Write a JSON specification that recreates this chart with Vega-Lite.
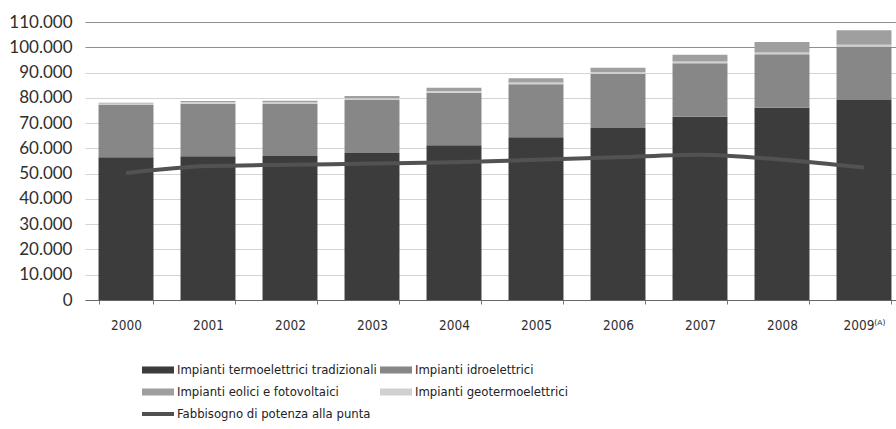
{
  "$schema": "https://vega.github.io/schema/vega-lite/v6.json",
  "autosize": "none",
  "width": 820,
  "height": 278,
  "padding": {"left": 85, "top": 22, "right": 0, "bottom": 129},
  "background": "white",
  "config": {
    "locale": {"number": {"decimal": ",", "thousands": ".", "grouping": [3], "currency": ["€", ""]}},
    "view": {"stroke": null},
    "axis": {"labelColor": "#2e2e2e", "titleColor": "#2e2e2e"}
  },
  "datasets": {
    "potenza": [
      {"anno": "2000", "serie": "Impianti termoelettrici tradizionali", "ord": 1, "mw": 56500},
      {"anno": "2000", "serie": "Impianti idroelettrici", "ord": 2, "mw": 20700},
      {"anno": "2000", "serie": "Impianti geotermoelettrici", "ord": 3, "mw": 600},
      {"anno": "2000", "serie": "Impianti eolici e fotovoltaici", "ord": 4, "mw": 200},
      {"anno": "2001", "serie": "Impianti termoelettrici tradizionali", "ord": 1, "mw": 56900},
      {"anno": "2001", "serie": "Impianti idroelettrici", "ord": 2, "mw": 20800},
      {"anno": "2001", "serie": "Impianti geotermoelettrici", "ord": 3, "mw": 600},
      {"anno": "2001", "serie": "Impianti eolici e fotovoltaici", "ord": 4, "mw": 400},
      {"anno": "2002", "serie": "Impianti termoelettrici tradizionali", "ord": 1, "mw": 57000},
      {"anno": "2002", "serie": "Impianti idroelettrici", "ord": 2, "mw": 20600},
      {"anno": "2002", "serie": "Impianti geotermoelettrici", "ord": 3, "mw": 600},
      {"anno": "2002", "serie": "Impianti eolici e fotovoltaici", "ord": 4, "mw": 600},
      {"anno": "2003", "serie": "Impianti termoelettrici tradizionali", "ord": 1, "mw": 58200},
      {"anno": "2003", "serie": "Impianti idroelettrici", "ord": 2, "mw": 20900},
      {"anno": "2003", "serie": "Impianti geotermoelettrici", "ord": 3, "mw": 700},
      {"anno": "2003", "serie": "Impianti eolici e fotovoltaici", "ord": 4, "mw": 900},
      {"anno": "2004", "serie": "Impianti termoelettrici tradizionali", "ord": 1, "mw": 61200},
      {"anno": "2004", "serie": "Impianti idroelettrici", "ord": 2, "mw": 20800},
      {"anno": "2004", "serie": "Impianti geotermoelettrici", "ord": 3, "mw": 700},
      {"anno": "2004", "serie": "Impianti eolici e fotovoltaici", "ord": 4, "mw": 1300},
      {"anno": "2005", "serie": "Impianti termoelettrici tradizionali", "ord": 1, "mw": 64400},
      {"anno": "2005", "serie": "Impianti idroelettrici", "ord": 2, "mw": 21000},
      {"anno": "2005", "serie": "Impianti geotermoelettrici", "ord": 3, "mw": 700},
      {"anno": "2005", "serie": "Impianti eolici e fotovoltaici", "ord": 4, "mw": 1600},
      {"anno": "2006", "serie": "Impianti termoelettrici tradizionali", "ord": 1, "mw": 68100},
      {"anno": "2006", "serie": "Impianti idroelettrici", "ord": 2, "mw": 21300},
      {"anno": "2006", "serie": "Impianti geotermoelettrici", "ord": 3, "mw": 700},
      {"anno": "2006", "serie": "Impianti eolici e fotovoltaici", "ord": 4, "mw": 1800},
      {"anno": "2007", "serie": "Impianti termoelettrici tradizionali", "ord": 1, "mw": 72500},
      {"anno": "2007", "serie": "Impianti idroelettrici", "ord": 2, "mw": 21200},
      {"anno": "2007", "serie": "Impianti geotermoelettrici", "ord": 3, "mw": 700},
      {"anno": "2007", "serie": "Impianti eolici e fotovoltaici", "ord": 4, "mw": 2600},
      {"anno": "2008", "serie": "Impianti termoelettrici tradizionali", "ord": 1, "mw": 76100},
      {"anno": "2008", "serie": "Impianti idroelettrici", "ord": 2, "mw": 21100},
      {"anno": "2008", "serie": "Impianti geotermoelettrici", "ord": 3, "mw": 700},
      {"anno": "2008", "serie": "Impianti eolici e fotovoltaici", "ord": 4, "mw": 4200},
      {"anno": "2009⁽ᴬ⁾", "serie": "Impianti termoelettrici tradizionali", "ord": 1, "mw": 79100},
      {"anno": "2009⁽ᴬ⁾", "serie": "Impianti idroelettrici", "ord": 2, "mw": 21200},
      {"anno": "2009⁽ᴬ⁾", "serie": "Impianti geotermoelettrici", "ord": 3, "mw": 700},
      {"anno": "2009⁽ᴬ⁾", "serie": "Impianti eolici e fotovoltaici", "ord": 4, "mw": 5700}
    ],
    "punta": [
      {"anno": "2000", "mw": 50200},
      {"anno": "2001", "mw": 53000},
      {"anno": "2002", "mw": 53500},
      {"anno": "2003", "mw": 54000},
      {"anno": "2004", "mw": 54500},
      {"anno": "2005", "mw": 55500},
      {"anno": "2006", "mw": 56500},
      {"anno": "2007", "mw": 57500},
      {"anno": "2008", "mw": 55500},
      {"anno": "2009⁽ᴬ⁾", "mw": 52400}
    ]
  },
  "layer": [
    {
      "data": {"name": "potenza"},
      "mark": {"type": "bar"},
      "encoding": {
        "x": {
          "field": "anno",
          "type": "ordinal",
          "sort": null,
          "scale": {"paddingInner": 0.33, "paddingOuter": 0.165},
          "axis": {
            "title": null,
            "labelAngle": 0,
            "labelFont": "'DejaVu Sans Condensed', 'Liberation Sans Narrow', 'Liberation Sans', sans-serif",
            "labelFontSize": 13.5,
            "labelPadding": 14,
            "tickBand": "extent",
            "tickSize": 4,
            "tickColor": "#777",
            "domainColor": "#666",
            "grid": false
          }
        },
        "y": {
          "field": "mw",
          "type": "quantitative",
          "stack": "zero",
          "scale": {"domain": [0, 110000], "nice": false},
          "axis": {
            "title": null,
            "tickCount": {"signal": "11"},
            "format": ",d",
            "labelFont": "Lato",
            "labelFontSize": 17,
            "labelPadding": 13,
            "labelOverlap": false,
            "labelBound": false,
            "labelFlush": false,
            "domain": false,
            "ticks": false,
            "grid": true,
            "gridColor": {"condition": {"test": "datum.value >= 100000", "value": "#8f8f8f"}, "value": "#d4d4d4"},
            "gridWidth": 1
          }
        },
        "order": {"field": "ord", "type": "quantitative"},
        "color": {
          "field": "serie",
          "type": "nominal",
          "scale": {
            "domain": [
              "Impianti termoelettrici tradizionali",
              "Impianti idroelettrici",
              "Impianti eolici e fotovoltaici",
              "Impianti geotermoelettrici",
              "Fabbisogno di potenza alla punta"
            ],
            "range": ["#3c3c3c", "#878787", "#9f9f9f", "#d0d0d0", "#505050"]
          },
          "legend": {
            "title": null,
            "orient": "none",
            "legendX": 57,
            "legendY": 340,
            "direction": "horizontal",
            "columns": 2,
            "columnPadding": 3,
            "rowPadding": 7,
            "symbolType": "M-1,-0.44H3V0.44H-1Z",
            "symbolSize": 256,
            "symbolStrokeWidth": 0,
            "labelFont": "'DejaVu Sans Condensed', 'Liberation Sans Narrow', 'Liberation Sans', sans-serif",
            "labelFontSize": 13,
            "labelColor": "#222",
            "labelOffset": 19,
            "labelLimit": 300,
            "encode": {
              "symbols": {
                "update": {
                  "shape": {"signal": "datum.value === 'Fabbisogno di potenza alla punta' ? 'M-1,-0.25H3V0.25H-1Z' : 'M-1,-0.44H3V0.44H-1Z'"},
                  "opacity": {"value": 1},
                  "fillOpacity": {"value": 1}
                }
              }
            }
          }
        }
      }
    },
    {
      "data": {"name": "punta"},
      "mark": {"type": "line", "interpolate": "monotone", "strokeWidth": 4, "color": "#525252"},
      "encoding": {
        "x": {"field": "anno", "type": "ordinal", "sort": null},
        "y": {"field": "mw", "type": "quantitative"}
      }
    }
  ]
}
